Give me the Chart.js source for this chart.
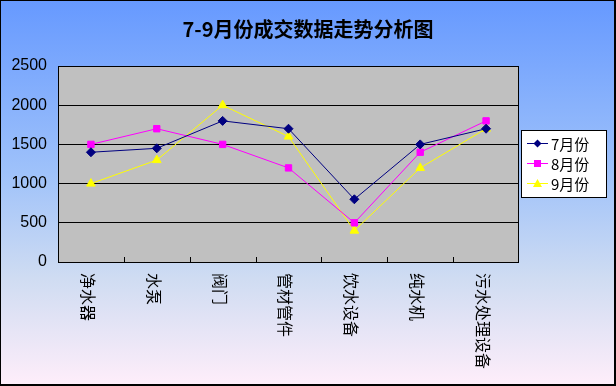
<!DOCTYPE html>
<html>
<head>
<meta charset="utf-8">
<script src="https://cdn.jsdelivr.net/npm/chart.js@4/dist/chart.umd.min.js"></script>
<style>
html,body{margin:0;padding:0;background:#fff;}
#wrap{position:relative;width:616px;height:386px;}
</style>
</head>
<body>
<div id="wrap"><canvas id="c" width="616" height="386"></canvas></div>
<script>
const titleText = '7-9月份成交数据走势分析图';
const categories = ['净水器', '水泵', '阀门', '管材管件', '饮水设备', '纯水机', '污水处理设备'];
const julyValues = [1400, 1450, 1800, 1700, 800, 1500, 1700];
const augValues = [1500, 1700, 1500, 1200, 500, 1400, 1800];
const sepValues = [1000, 1300, 2000, 1600, 400, 1200, 1700];
const seriesNames = ['7月份', '8月份', '9月份'];
const yTicks = [0, 500, 1000, 1500, 2000, 2500];

const CJK = '"Noto Sans CJK SC", "Liberation Sans", sans-serif';

const decor = {
  id: 'decor',
  beforeDraw(chart) {
    const ctx = chart.ctx;
    const W = chart.width, H = chart.height;
    ctx.save();
    const g = ctx.createLinearGradient(0, 0, 0, H);
    g.addColorStop(0, '#6699FF');
    g.addColorStop(0.45, '#9FC2FA');
    g.addColorStop(0.72, '#CFDCF2');
    g.addColorStop(1, '#FFEEFA');
    ctx.fillStyle = g;
    ctx.fillRect(0, 0, W, H);
    ctx.fillStyle = '#000';
    ctx.fillRect(0, 0, W, 1);
    ctx.fillRect(0, 0, 1, H);
    ctx.fillRect(W - 2, 0, 2, H);
    ctx.fillRect(0, H - 2, W, 2);
    const a = chart.chartArea;
    ctx.fillStyle = '#C0C0C0';
    ctx.fillRect(a.left, a.top, a.right - a.left, a.bottom - a.top);
    ctx.restore();
  },
  afterDraw(chart) {
    const ctx = chart.ctx;
    const a = chart.chartArea;
    const xs = chart.scales.x;
    ctx.save();
    ctx.strokeStyle = '#000';
    ctx.lineWidth = 1;
    ctx.strokeRect(Math.round(a.left) + 0.5, Math.round(a.top) + 0.5, Math.round(a.right - a.left) - 1, Math.round(a.bottom - a.top));
    const n = chart.data.labels.length;
    const step = (xs.getPixelForTick(1) - xs.getPixelForTick(0));
    for (let i = 1; i < n; i++) {
      const x = Math.round(xs.getPixelForTick(i) - step / 2) + 0.5;
      ctx.beginPath();
      ctx.moveTo(x, a.bottom);
      ctx.lineTo(x, a.bottom - 5);
      ctx.stroke();
    }
    ctx.fillStyle = '#000';
    ctx.font = '16px ' + CJK;
    ctx.textAlign = 'left';
    ctx.textBaseline = 'middle';
    chart.data.labels.forEach((lab, i) => {
      const x = xs.getPixelForTick(i) - 3;
      ctx.save();
      ctx.translate(x, a.bottom + 11);
      ctx.rotate(Math.PI / 2);
      ctx.fillText(lab, 0, 0);
      ctx.restore();
    });
    ctx.font = 'bold 20px ' + CJK;
    ctx.textAlign = 'center';
    ctx.textBaseline = 'middle';
    ctx.fillText(titleText, 308, 29);
    const lx = 521, ly = 130, lw = 85, lh = 67;
    ctx.fillStyle = '#fff';
    ctx.fillRect(lx, ly, lw, lh);
    ctx.strokeStyle = '#000';
    ctx.strokeRect(lx + 0.5, ly + 0.5, lw, lh);
    chart.data.datasets.forEach((ds, i) => {
      const y = ly + 13 + i * 20;
      ctx.strokeStyle = ds.borderColor;
      ctx.lineWidth = 1;
      ctx.beginPath();
      ctx.moveTo(lx + 6, y + 0.5);
      ctx.lineTo(lx + 27, y + 0.5);
      ctx.stroke();
      ctx.fillStyle = ds.pointBackgroundColor;
      const cx = lx + 16.5, cy = y + 0.5;
      ctx.beginPath();
      if (ds.pointStyle === 'rectRot') {
        ctx.moveTo(cx, cy - 4); ctx.lineTo(cx + 4, cy); ctx.lineTo(cx, cy + 4); ctx.lineTo(cx - 4, cy);
      } else if (ds.pointStyle === 'rect') {
        ctx.rect(cx - 3.5, cy - 3.5, 7, 7);
      } else {
        ctx.moveTo(cx, cy - 4.5); ctx.lineTo(cx + 4.5, cy + 3.5); ctx.lineTo(cx - 4.5, cy + 3.5);
      }
      ctx.closePath();
      ctx.fill();
      ctx.fillStyle = '#000';
      ctx.font = '15px ' + CJK;
      ctx.textAlign = 'left';
      ctx.textBaseline = 'middle';
      ctx.fillText(ds.label, lx + 30, y + 1);
    });
    ctx.restore();
  }
};

new Chart(document.getElementById('c'), {
  type: 'line',
  data: {
    labels: categories,
    datasets: [
      { label: seriesNames[0], data: julyValues, borderColor: '#000080', backgroundColor: '#000080', pointBackgroundColor: '#000080', pointBorderColor: '#000080', pointStyle: 'rectRot', pointRadius: 4.5, borderWidth: 1, tension: 0 },
      { label: seriesNames[1], data: augValues, borderColor: '#FF00FF', backgroundColor: '#FF00FF', pointBackgroundColor: '#FF00FF', pointBorderColor: '#FF00FF', pointStyle: 'rect', pointRadius: 4.5, borderWidth: 1, tension: 0 },
      { label: seriesNames[2], data: sepValues, borderColor: '#FFFF00', backgroundColor: '#FFFF00', pointBackgroundColor: '#FFFF00', pointBorderColor: '#FFFF00', pointStyle: 'triangle', pointRadius: 5, borderWidth: 1, tension: 0 }
    ]
  },
  options: {
    responsive: false,
    animation: false,
    devicePixelRatio: 1,
    layout: { padding: { top: 66, right: 97, bottom: 0, left: 0 } },
    plugins: { legend: { display: false }, title: { display: false }, tooltip: { enabled: false } },
    scales: {
      x: {
        type: 'category',
        offset: true,
        grid: { display: false },
        border: { display: false },
        ticks: { display: false },
        afterFit(s) { s.height = 124; }
      },
      y: {
        min: 0, max: 2500,
        afterBuildTicks(s) { s.ticks = yTicks.map(v => ({ value: v })); },
        grid: { color: '#000', lineWidth: 1, drawTicks: false },
        border: { display: false },
        ticks: { color: '#000', font: { size: 16, family: '"Liberation Sans", Arial, sans-serif' }, padding: 11, callback: (v) => String(v) },
        afterFit(s) { s.width = 58; }
      }
    }
  },
  plugins: [decor]
});
</script>
</body>
</html>
